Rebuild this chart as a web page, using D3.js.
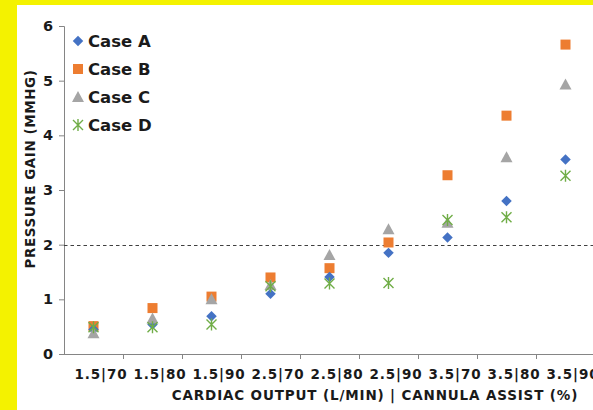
<!DOCTYPE html>
<html><head><meta charset="utf-8">
<script src="https://cdn.jsdelivr.net/npm/d3@7"></script>
<style>
html,body{margin:0;padding:0;background:#fff;}
svg{display:block;}
text{font-family:"DejaVu Sans",Verdana,sans-serif;font-weight:bold;fill:#1a1a1a;}
</style></head><body>
<svg id="c" width="593" height="410"></svg>
<script>
const categories = ["1.5|70","1.5|80","1.5|90","2.5|70","2.5|80","2.5|90","3.5|70","3.5|80","3.5|90"];
const caseA = [0.45,0.54,0.69,1.10,1.41,1.85,2.13,2.80,3.56];
const caseB = [0.51,0.84,1.05,1.40,1.57,2.04,3.27,4.36,5.66];
const caseC = [0.38,0.65,1.00,1.26,1.81,2.28,2.40,3.60,4.93];
const caseD = [0.49,0.49,0.54,1.24,1.29,1.30,2.45,2.50,3.26];
const seriesNames = ["Case A","Case B","Case C","Case D"];
const yTicks = [0,1,2,3,4,5,6];
const threshold = 2;

const svg = d3.select("#c");
svg.append("rect").attr("width",593).attr("height",410).attr("fill","#f4f200");
svg.append("rect").attr("x",17).attr("y",5).attr("width",593-17).attr("height",405).attr("fill","#fff");

const x = d3.scaleBand().domain(categories).range([64,595]).padding(0);
const y = d3.scaleLinear().domain([0,6]).range([354,26]);

const axisColor = "#858585";

// y axis
const gy = svg.append("g").attr("transform","translate(64,0)")
  .call(d3.axisLeft(y).tickValues(yTicks).tickSize(5).tickPadding(6).tickFormat(d3.format("d")));
gy.select(".domain").attr("stroke",axisColor).attr("d","M-5,26.5H0.5V354.5");
gy.selectAll(".tick line").attr("stroke",axisColor);
gy.selectAll(".tick text").style("font-size","14.5px").attr("fill","#1a1a1a").attr("font-weight","bold").attr("font-family","DejaVu Sans");

// x axis
const gx = svg.append("g").attr("transform","translate(0,354)")
  .call(d3.axisBottom(x).tickSize(0).tickPadding(15));
gx.select(".domain").attr("stroke",axisColor).attr("d","M64,0.5H595");
gx.selectAll(".tick text").style("font-size","13.5px").style("letter-spacing","0.9px").attr("dx",7.5).attr("fill","#1a1a1a").attr("font-weight","bold").attr("font-family","DejaVu Sans");
// boundary tick marks
gx.selectAll("line.bt").data(categories.slice(1).concat(["end"])).enter().append("line")
  .attr("class","bt")
  .attr("x1",(d,i)=>Math.round(x.range()[0] + x.step()*(i+1))+0.5)
  .attr("x2",(d,i)=>Math.round(x.range()[0] + x.step()*(i+1))+0.5)
  .attr("y1",0).attr("y2",5).attr("stroke",axisColor);

// threshold dashed line
svg.append("line").attr("x1",64).attr("x2",593)
  .attr("y1",Math.round(y(threshold))+0.5).attr("y2",Math.round(y(threshold))+0.5)
  .attr("stroke","#404040").attr("stroke-width",1.2).attr("stroke-dasharray","3.5,3");

// axis titles
svg.append("text").attr("x",375).attr("y",400).attr("text-anchor","middle")
  .style("font-size","13.5px").style("letter-spacing","0.85px").text("CARDIAC OUTPUT (L/MIN) | CANNULA ASSIST (%)");
svg.append("text").attr("transform","translate(35,169) rotate(-90)").attr("text-anchor","middle")
  .style("font-size","13.5px").style("letter-spacing","0.55px").text("PRESSURE GAIN (MMHG)");

const colors = ["#4472c4","#ed7d31","#a5a5a5","#70ad47"];
function marker(g, k){
  if(k===0){ g.append("path").attr("d",d3.symbol(d3.symbolDiamond2,70)()).attr("fill",colors[0]); }
  else if(k===1){ g.append("rect").attr("x",-5).attr("y",-5).attr("width",10).attr("height",10).attr("fill",colors[1]); }
  else if(k===2){ g.append("path").attr("d","M0,-6L6,5H-6Z").attr("fill",colors[2]); }
  else { g.append("path").attr("d","M-5,-5L5,5M-5,5L5,-5M0,-6V6").attr("stroke",colors[3]).attr("stroke-width",1.4).attr("fill","none"); }
}
const allSeries = [caseA,caseB,caseC,caseD];
[1,0,2,3].forEach(k=>{
  const vals = allSeries[k];
  vals.forEach((v,i)=>{
    const g = svg.append("g").attr("transform",`translate(${x(categories[i])+x.bandwidth()/2},${y(v)})`);
    marker(g,k);
  });
});

// legend
seriesNames.forEach((n,k)=>{
  const ly = 41 + k*28;
  const g = svg.append("g").attr("transform",`translate(78,${ly})`);
  marker(g,k);
  svg.append("text").attr("x",88).attr("y",ly+6).style("font-size","16.5px").text(n);
});
</script>
</body></html>
